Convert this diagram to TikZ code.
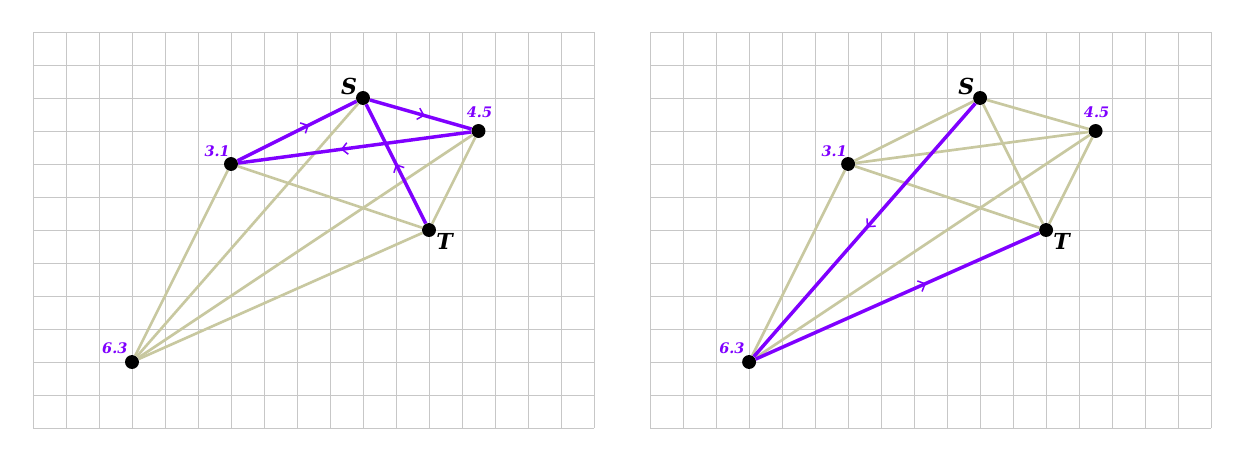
\documentclass[tikz,border=0pt]{standalone}
\usepackage{fontspec}
\newfontfamily\labfont{DejaVu Serif}
\usetikzlibrary{decorations.markings,arrows.meta}
\definecolor{tanc}{HTML}{C8C8A0}
\definecolor{vio}{HTML}{7F00FF}
\tikzset{
 gridline/.style={draw=black!22, line width=0.5pt},
 tanedge/.style={draw=tanc, line width=2.3pt},
 vioedge/.style={draw=vio, line width=3pt, postaction={decorate},
   decoration={markings, mark=at position #1 with {\arrow[vio]{Straight Barb[length=5pt,width=10pt,line width=1.3pt]}}}},
 vioedge/.default=0.55,
 vertex/.style={circle, fill=black, inner sep=0pt, minimum size=12pt},
 bigl/.style={font=\labfont\bfseries\itshape\fontsize{19}{21}\selectfont},
 numl/.style={text=vio, font=\labfont\bfseries\itshape\fontsize{12.5}{14}\selectfont},
}
\newcommand{\mypanel}[1]{%
  \foreach \x in {1,...,18} \draw[gridline] (\x,1) -- (\x,13);
  \foreach \y in {1,...,13} \draw[gridline] (1,\y) -- (18,\y);
  \node[vertex] (#1S) at (11,11) {};
  \node[vertex] (#1T) at (13,7) {};
  \node[vertex] (#1a) at (7,9) {};
  \node[vertex] (#1b) at (14.5,10) {};
  \node[vertex] (#1c) at (4,3) {};
  \node[bigl] (#1Sl) at ([shift={(-0.42,0.36)}]#1S.center) {S};
  \node[bigl] (#1Tl) at ([shift={(0.47,-0.36)}]#1T.center) {T};
  \node[numl] (#1al) at ([shift={(-0.42,0.39)}]#1a.center) {3.1};
  \node[numl] (#1bl) at ([shift={(0.03,0.58)}]#1b.center) {4.5};
  \node[numl] (#1cl) at ([shift={(-0.52,0.42)}]#1c.center) {6.3};
}
\begin{document}
\begin{tikzpicture}
\useasboundingbox (0,0) rectangle (37.97,13.97);
% left panel
\begin{scope}
  \mypanel{L}
  \draw[tanedge] (Lc) -- (La);
  \draw[tanedge] (Lc) -- (LS);
  \draw[tanedge] (Lc) -- (Lb);
  \draw[tanedge] (Lc) -- (LT);
  \draw[tanedge] (La) -- (LT);
  \draw[tanedge] (Lb) -- (LT);
  \draw[vioedge=0.6] (La) -- (LS);
  \draw[vioedge=0.54] (LS) -- (Lb);
  \draw[vioedge=0.56] (Lb) -- (La);
  \draw[vioedge=0.5] (LT) -- (LS);
\end{scope}
% right panel
\begin{scope}[xshift=18.7cm]
  \mypanel{R}
  \draw[tanedge] (Rc) -- (Ra);
  \draw[tanedge] (Rc) -- (Rb);
  \draw[tanedge] (Ra) -- (RS);
  \draw[tanedge] (Ra) -- (Rb);
  \draw[tanedge] (Ra) -- (RT);
  \draw[tanedge] (RS) -- (Rb);
  \draw[tanedge] (RS) -- (RT);
  \draw[tanedge] (Rb) -- (RT);
  \draw[vioedge=0.49] (RS) -- (Rc);
  \draw[vioedge=0.6] (Rc) -- (RT);
\end{scope}
\end{tikzpicture}
\end{document}
